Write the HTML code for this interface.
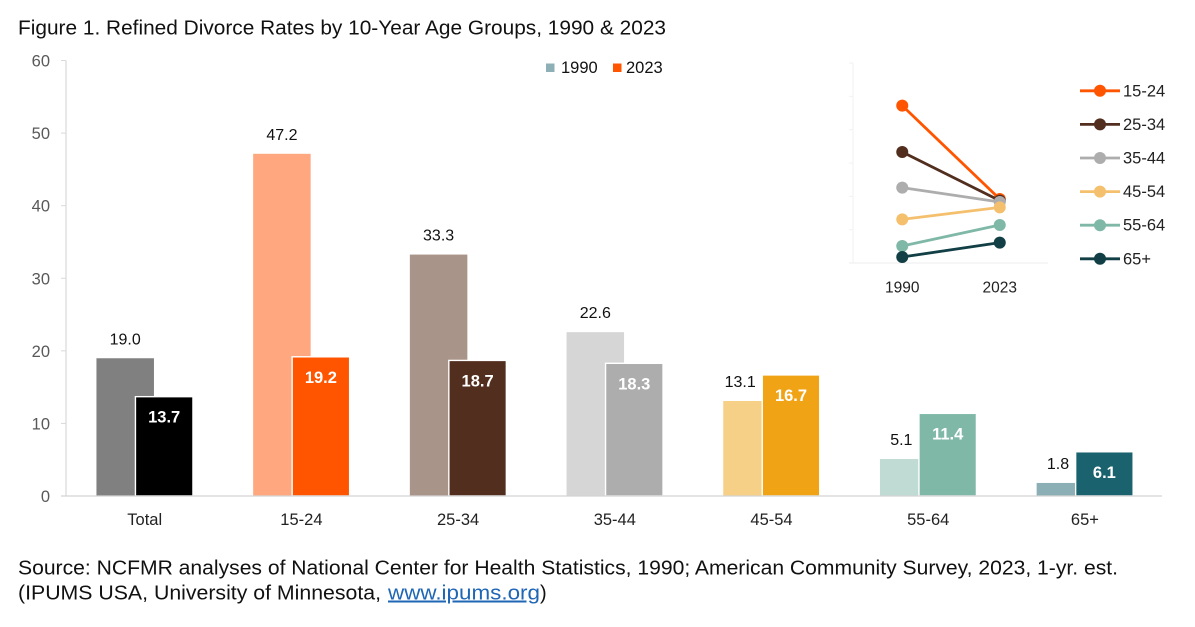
<!DOCTYPE html>
<html lang="en">
<head>
<meta charset="utf-8">
<title>Figure 1. Refined Divorce Rates</title>
<style>
html,body{margin:0;padding:0;background:#fff;width:1195px;height:627px;overflow:hidden}
svg{display:block;font-family:"Liberation Sans",Arial,sans-serif}
</style>
</head>
<body>
<svg id="chart" width="1195" height="627" viewBox="0 0 1195 627">
  <rect width="1195" height="627" fill="#fff"/>
  <text x="18" y="34.5" font-size="20" fill="#111" textLength="648" lengthAdjust="spacingAndGlyphs">Figure 1. Refined Divorce Rates by 10-Year Age Groups, 1990 &amp; 2023</text>
  <g id="bars-layer"></g>
  <g id="legend-top">
    <rect x="546" y="63.5" width="8.5" height="8.5" fill="#8fafb6"/>
    <text x="561" y="73" font-size="16.5" fill="#111">1990</text>
    <rect x="613" y="63.5" width="8.5" height="8.5" fill="#ff5500"/>
    <text x="626" y="73" font-size="16.5" fill="#111">2023</text>
  </g>
  <g id="inset-layer"></g>
  <text x="18" y="574.5" font-size="20" fill="#111" textLength="1100" lengthAdjust="spacingAndGlyphs">Source: NCFMR analyses of National Center for Health Statistics, 1990; American Community Survey, 2023, 1-yr. est.</text>
  <text x="18" y="599.5" font-size="20" fill="#111" textLength="363" lengthAdjust="spacingAndGlyphs">(IPUMS USA, University of Minnesota,</text>
  <text x="388" y="599.5" font-size="20" fill="#1f66b5" text-decoration="underline" textLength="152" lengthAdjust="spacingAndGlyphs">www.ipums.org</text>
  <text x="540" y="599.5" font-size="20" fill="#111">)</text>
</svg>
<script>
const categories = ['Total', '15-24', '25-34', '35-44', '45-54', '55-64', '65+'];
const values1990 = [19.0, 47.2, 33.3, 22.6, 13.1, 5.1, 1.8];
const values2023 = [13.7, 19.2, 18.7, 18.3, 16.7, 11.4, 6.1];
const yTicks = [0, 10, 20, 30, 40, 50, 60];
const colors1990 = ['#808080', '#ffa880', '#a89488', '#d6d6d6', '#f5d086', '#c0dbd3', '#8caeb5'];
const colors2023 = ['#000000', '#ff5500', '#522e1f', '#adadad', '#f0a315', '#80b8a8', '#1a626e'];
const insetSeries = ['15-24', '25-34', '35-44', '45-54', '55-64', '65+'];
const insetColors = ['#ff5500', '#522e1f', '#adadad', '#f5c06e', '#80b8a8', '#123f45'];
const insetYears = ['1990', '2023'];

const NS = 'http://www.w3.org/2000/svg';
function make(parent, tag, attrs, text) {
  const el = document.createElementNS(NS, tag);
  for (const k in attrs) el.setAttribute(k, attrs[k]);
  if (text !== undefined) el.textContent = text;
  parent.appendChild(el);
  return el;
}
function slug(s) { return s.toLowerCase().replace(/[^a-z0-9]+/g, '-'); }

/* main axes */
const plot = { left: 66, right: 1162, top: 60.5, bottom: 496, max: 60 };
const yAxisScale = v => plot.bottom - (v / plot.max) * (plot.bottom - plot.top);
const yScale = v => plot.bottom - (v / plot.max) * (plot.bottom - plot.top - 0.5);
const firstCenter = 144.7, groupStep = 156.7;
const xCenter = i => firstCenter + groupStep * i;
const barW = 57.5, barShift = 19.5;

const barsLayer = document.getElementById('bars-layer');

yTicks.forEach(t => {
  const y = yAxisScale(t);
  const tick = make(barsLayer, 'line', { x1: 61, x2: plot.left, y1: y, y2: y, stroke: '#d9d9d9', 'stroke-width': 1 });
  
  
  const label = make(barsLayer, 'text', { x: 50, y: y + 6, 'text-anchor': 'end', 'font-size': 16.5, fill: '#595959' }, String(t));
  
  
});
const yAxis = make(barsLayer, 'line', { x1: plot.left, x2: plot.left, y1: plot.top, y2: plot.bottom, stroke: '#d9d9d9', 'stroke-width': 1.2 });



categories.forEach((c, i) => {
  const cx = xCenter(i);
  const a = values1990[i], b = values2023[i];
  const bar2Left = cx + barShift - barW / 2;
  const bar1 = make(barsLayer, 'rect', { x: cx - barShift - barW / 2, y: yScale(a), width: barW, height: plot.bottom - yScale(a), fill: colors1990[i] });
  
  
  const bar2 = make(barsLayer, 'rect', { x: bar2Left, y: yScale(b), width: barW, height: plot.bottom - yScale(b), fill: colors2023[i], stroke: '#fff', 'stroke-width': 1.4 });
  
  
  /* when the 2023 bar is taller, the 1990 label sits just left of it */
  const taller = b > a;
  const l1 = make(barsLayer, 'text', {
    x: taller ? bar2Left - 6.5 : cx - barShift,
    y: yScale(a) - 14,
    'text-anchor': taller ? 'end' : 'middle',
    'font-size': 16,
    fill: '#111'
  }, a.toFixed(1));
  
  
  const l2 = make(barsLayer, 'text', { x: cx + barShift, y: yScale(b) + 26, 'text-anchor': 'middle', 'font-size': 16.5, 'font-weight': 700, fill: '#fff' }, b.toFixed(1));
  
  
  const cat = make(barsLayer, 'text', { x: cx, y: 525, 'text-anchor': 'middle', 'font-size': 16.5, fill: '#222' }, c);
  
  
});
const xAxis = make(barsLayer, 'line', { x1: 61, x2: plot.right, y1: plot.bottom, y2: plot.bottom, stroke: '#d4d4d4', 'stroke-width': 1.2 });



/* inset slope chart: same values, series index i maps to category i + 1 */
const inset = { left: 853, right: 1048, top: 63, bottom: 263, max: 60 };
const insetY = v => inset.bottom - (v / inset.max) * (inset.bottom - inset.top);
const insetStep = (inset.right - inset.left) / insetYears.length;
const insetX = j => inset.left + insetStep * (j + 0.5) + 0.5;
const insetLayer = document.getElementById('inset-layer');

yTicks.forEach(t => {
  const tick = make(insetLayer, 'line', { x1: 849, x2: inset.left, y1: insetY(t), y2: insetY(t), stroke: '#f2f2f2', 'stroke-width': 1 });
  
  
});
const insetYAxis = make(insetLayer, 'line', { x1: inset.left, x2: inset.left, y1: inset.top, y2: inset.bottom, stroke: '#f2f2f2', 'stroke-width': 1 });


const insetXAxis = make(insetLayer, 'line', { x1: 849, x2: inset.right, y1: inset.bottom, y2: inset.bottom, stroke: '#ececec', 'stroke-width': 1 });



insetYears.forEach((yr, j) => {
  const t = make(insetLayer, 'text', { x: insetX(j), y: 292.5, 'text-anchor': 'middle', 'font-size': 15.5, fill: '#222' }, yr);
  
  
});

insetSeries.forEach((s, i) => {
  const series = [values1990[i + 1], values2023[i + 1]];
  const line = make(insetLayer, 'line', { x1: insetX(0), y1: insetY(series[0]), x2: insetX(1), y2: insetY(series[1]), stroke: insetColors[i], 'stroke-width': 2.8 });
  
  
  series.forEach((v, j) => {
    const dot = make(insetLayer, 'circle', { cx: insetX(j), cy: insetY(v), r: 6, fill: insetColors[i] });
    
    
  });
  const ly = 90.8 + i * 33.6;
  const key = make(insetLayer, 'line', { x1: 1080, x2: 1120, y1: ly, y2: ly, stroke: insetColors[i], 'stroke-width': 2.8 });
  
  
  const keyDot = make(insetLayer, 'circle', { cx: 1100, cy: ly, r: 6, fill: insetColors[i] });
  
  
  const keyText = make(insetLayer, 'text', { x: 1123, y: ly + 5.5, 'font-size': 16.5, fill: '#222' }, s);
  
  
});
</script>
</body>
</html>
